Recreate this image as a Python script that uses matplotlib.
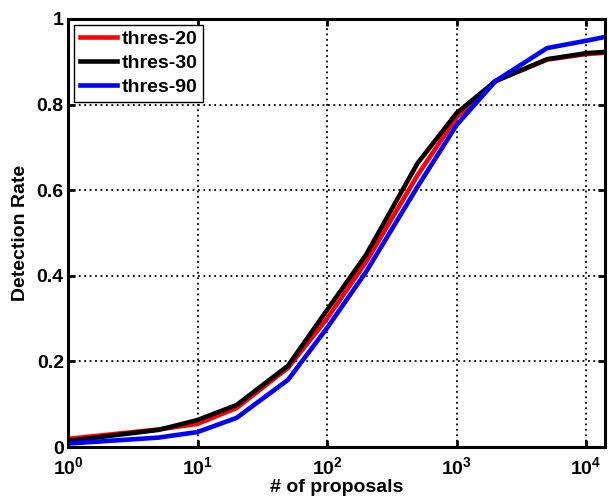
import numpy as np
import matplotlib
matplotlib.use('Agg')
import matplotlib.pyplot as plt
from matplotlib.ticker import FixedLocator, NullLocator

plt.rcParams['font.family'] = 'Liberation Sans'
plt.rcParams['font.weight'] = 'bold'
plt.rcParams['mathtext.fontset'] = 'custom'
plt.rcParams['mathtext.rm'] = 'Liberation Sans:bold'
plt.rcParams['mathtext.bf'] = 'Liberation Sans:bold'

proposals = [1, 5, 10, 20, 50, 100, 200, 500, 1000, 2000, 5000, 10000, 14000]
thres_20 = [0.019, 0.041, 0.054, 0.091, 0.185, 0.300, 0.432, 0.635, 0.770, 0.855, 0.905, 0.918, 0.921]
thres_30 = [0.014, 0.040, 0.063, 0.098, 0.190, 0.320, 0.449, 0.663, 0.780, 0.855, 0.906, 0.920, 0.923]
thres_90 = [0.008, 0.022, 0.035, 0.068, 0.157, 0.278, 0.409, 0.608, 0.752, 0.855, 0.932, 0.949, 0.958]

fig = plt.figure(figsize=(6.09, 4.99), dpi=100)
ax = fig.add_axes([0.1117, 0.1042, 0.8817, 0.8578])

ax.plot(proposals, thres_20, color='red', lw=3.3, label='thres-20')
ax.plot(proposals, thres_30, color='black', lw=3.3, label='thres-30')
ax.plot(proposals, thres_90, color='blue', lw=3.3, label='thres-90')

ax.set_xscale('log')
ax.set_xlim(1, 14000)
ax.set_ylim(0, 1)
ax.xaxis.set_major_locator(FixedLocator([1, 10, 100, 1000, 10000]))
ax.xaxis.set_minor_locator(NullLocator())
ax.set_xticklabels([r'$10^{%d}$' % i for i in range(5)])
ax.set_yticks([0, 0.2, 0.4, 0.6, 0.8, 1])
ax.set_yticklabels(['0', '0.2', '0.4', '0.6', '0.8', '1'])

ax.grid(True, which='major', color='black', linestyle=(0, (1, 2)), lw=1.3)
for s in ax.spines.values():
    s.set_linewidth(2.2)
ax.tick_params(direction='in', length=5, width=2, labelsize=14,
               top=True, right=True)
ax.tick_params(axis='x', pad=7)
ax.tick_params(axis='y', pad=3)

ax.set_xlabel('# of proposals', fontsize=14, fontweight='bold', labelpad=0)
ax.set_ylabel('Detection Rate', fontsize=14, fontweight='bold')
ax.yaxis.set_label_coords(-0.073, 0.5)

leg = ax.legend(loc='upper left', fontsize=14, fancybox=False, framealpha=1,
                edgecolor='black', handlelength=1.9, borderpad=0.3,
                labelspacing=0.32, handletextpad=0.25, borderaxespad=0.3)
leg.get_frame().set_linewidth(1)

fig.savefig('out.png', dpi=100)
